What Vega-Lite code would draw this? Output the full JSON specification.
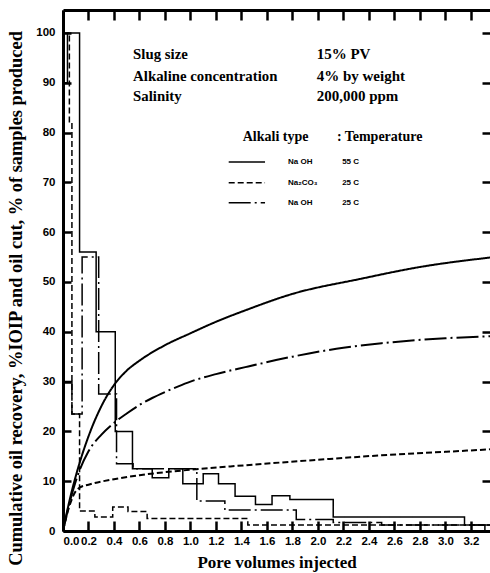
{
  "$schema": "https://vega.github.io/schema/vega-lite/v6.json",
  "width": 427,
  "height": 521,
  "autosize": {"type": "none"},
  "padding": {"left": 63, "top": 10, "right": 0, "bottom": 42},
  "background": "white",
  "config": {"view": {"stroke": null}},
  "datasets": {
    "cut": [
      {"series": "NaOH 55 C", "x": 0, "y": 90},
      {"series": "NaOH 55 C", "x": 0.035, "y": 100},
      {"series": "NaOH 55 C", "x": 0.13, "y": 56},
      {"series": "NaOH 55 C", "x": 0.26, "y": 40},
      {"series": "NaOH 55 C", "x": 0.41, "y": 20},
      {"series": "NaOH 55 C", "x": 0.545, "y": 12.5},
      {"series": "NaOH 55 C", "x": 0.7, "y": 10.7},
      {"series": "NaOH 55 C", "x": 0.83, "y": 12.5},
      {"series": "NaOH 55 C", "x": 0.94, "y": 9.5},
      {"series": "NaOH 55 C", "x": 1.1, "y": 11.5},
      {"series": "NaOH 55 C", "x": 1.22, "y": 9.5},
      {"series": "NaOH 55 C", "x": 1.35, "y": 7},
      {"series": "NaOH 55 C", "x": 1.51, "y": 5.3},
      {"series": "NaOH 55 C", "x": 1.64, "y": 7.1},
      {"series": "NaOH 55 C", "x": 1.78, "y": 6.3},
      {"series": "NaOH 55 C", "x": 2.12, "y": 2.8},
      {"series": "NaOH 55 C", "x": 3.15, "y": 1.2},
      {"series": "NaOH 55 C", "x": 3.31, "y": 0},
      {"series": "Na2CO3 25 C", "x": 0, "y": 100},
      {"series": "Na2CO3 25 C", "x": 0.05, "y": 82},
      {"series": "Na2CO3 25 C", "x": 0.07, "y": 23.5},
      {"series": "Na2CO3 25 C", "x": 0.13, "y": 4},
      {"series": "Na2CO3 25 C", "x": 0.25, "y": 2.8},
      {"series": "Na2CO3 25 C", "x": 0.39, "y": 4.8},
      {"series": "Na2CO3 25 C", "x": 0.51, "y": 3.9},
      {"series": "Na2CO3 25 C", "x": 0.66, "y": 2.5},
      {"series": "Na2CO3 25 C", "x": 1.45, "y": 1.2},
      {"series": "Na2CO3 25 C", "x": 3.35, "y": 1.2},
      {"series": "NaOH 25 C", "x": 0, "y": 30},
      {"series": "NaOH 25 C", "x": 0.07, "y": 23.5},
      {"series": "NaOH 25 C", "x": 0.15, "y": 55},
      {"series": "NaOH 25 C", "x": 0.28, "y": 27.5},
      {"series": "NaOH 25 C", "x": 0.42, "y": 13.5},
      {"series": "NaOH 25 C", "x": 0.55, "y": 12.5},
      {"series": "NaOH 25 C", "x": 1.05, "y": 6},
      {"series": "NaOH 25 C", "x": 1.27, "y": 4.2},
      {"series": "NaOH 25 C", "x": 1.83, "y": 2.3},
      {"series": "NaOH 25 C", "x": 2.12, "y": 1.7},
      {"series": "NaOH 25 C", "x": 2.5, "y": 1.2},
      {"series": "NaOH 25 C", "x": 3.35, "y": 1.2}
    ],
    "recovery": [
      {"series": "NaOH 55 C", "x": 0, "y": 0},
      {"series": "NaOH 55 C", "x": 0.05, "y": 6},
      {"series": "NaOH 55 C", "x": 0.1, "y": 11},
      {"series": "NaOH 55 C", "x": 0.2, "y": 19},
      {"series": "NaOH 55 C", "x": 0.3, "y": 25},
      {"series": "NaOH 55 C", "x": 0.4, "y": 29.3},
      {"series": "NaOH 55 C", "x": 0.5, "y": 32.2},
      {"series": "NaOH 55 C", "x": 0.6, "y": 34.2},
      {"series": "NaOH 55 C", "x": 0.8, "y": 37.3},
      {"series": "NaOH 55 C", "x": 1.0, "y": 39.7},
      {"series": "NaOH 55 C", "x": 1.2, "y": 42},
      {"series": "NaOH 55 C", "x": 1.43, "y": 44.3},
      {"series": "NaOH 55 C", "x": 1.8, "y": 47.6},
      {"series": "NaOH 55 C", "x": 2.33, "y": 50.6},
      {"series": "NaOH 55 C", "x": 2.8, "y": 53},
      {"series": "NaOH 55 C", "x": 3.35, "y": 54.9},
      {"series": "Na2CO3 25 C", "x": 0, "y": 0},
      {"series": "Na2CO3 25 C", "x": 0.05, "y": 5},
      {"series": "Na2CO3 25 C", "x": 0.1, "y": 8},
      {"series": "Na2CO3 25 C", "x": 0.13, "y": 8.7},
      {"series": "Na2CO3 25 C", "x": 0.2, "y": 9.3},
      {"series": "Na2CO3 25 C", "x": 0.4, "y": 10.4},
      {"series": "Na2CO3 25 C", "x": 0.6, "y": 11.2},
      {"series": "Na2CO3 25 C", "x": 1.0, "y": 12.3},
      {"series": "Na2CO3 25 C", "x": 1.43, "y": 13.2},
      {"series": "Na2CO3 25 C", "x": 2.0, "y": 14.3},
      {"series": "Na2CO3 25 C", "x": 2.5, "y": 15.2},
      {"series": "Na2CO3 25 C", "x": 3.0, "y": 15.9},
      {"series": "Na2CO3 25 C", "x": 3.35, "y": 16.4},
      {"series": "NaOH 25 C", "x": 0, "y": 0},
      {"series": "NaOH 25 C", "x": 0.05, "y": 5.5},
      {"series": "NaOH 25 C", "x": 0.1, "y": 10},
      {"series": "NaOH 25 C", "x": 0.2, "y": 16},
      {"series": "NaOH 25 C", "x": 0.3, "y": 19.3},
      {"series": "NaOH 25 C", "x": 0.4, "y": 21.7},
      {"series": "NaOH 25 C", "x": 0.5, "y": 23.6},
      {"series": "NaOH 25 C", "x": 0.6, "y": 25.3},
      {"series": "NaOH 25 C", "x": 0.7, "y": 26.7},
      {"series": "NaOH 25 C", "x": 0.8, "y": 27.9},
      {"series": "NaOH 25 C", "x": 0.9, "y": 29},
      {"series": "NaOH 25 C", "x": 1.0, "y": 30},
      {"series": "NaOH 25 C", "x": 1.2, "y": 31.5},
      {"series": "NaOH 25 C", "x": 1.43, "y": 32.9},
      {"series": "NaOH 25 C", "x": 1.8, "y": 35},
      {"series": "NaOH 25 C", "x": 2.2, "y": 36.8},
      {"series": "NaOH 25 C", "x": 2.5, "y": 37.7},
      {"series": "NaOH 25 C", "x": 3.0, "y": 38.7},
      {"series": "NaOH 25 C", "x": 3.35, "y": 39.1}
    ],
    "legend": [
      {"series": "NaOH 55 C", "x0": 1.3, "x1": 1.585, "y": 74.1, "alkali": "Na OH", "temp": "55  C"},
      {"series": "Na2CO3 25 C", "x0": 1.3, "x1": 1.585, "y": 69.9, "alkali": "Na₂CO₃", "temp": "25  C"},
      {"series": "NaOH 25 C", "x0": 1.3, "x1": 1.585, "y": 65.9, "alkali": "Na  OH", "temp": "25  C"}
    ],
    "notes": [
      {"label": "Slug size", "value": "15% PV", "y": 94.7},
      {"label": "Alkaline concentration", "value": "4% by weight", "y": 90.4},
      {"label": "Salinity", "value": "200,000 ppm", "y": 86.4}
    ],
    "header": [
      {"text": "Alkali type", "x": 1.41, "y": 78.3},
      {"text": ":", "x": 2.15, "y": 78.3},
      {"text": "Temperature", "x": 2.21, "y": 78.3}
    ]
  },
  "resolve": {"axis": {"x": "independent", "y": "independent"}},
  "layer": [
    {
      "data": {"name": "cut"},
      "mark": {"type": "line", "interpolate": "step-after", "color": "black", "strokeWidth": 1.5},
      "encoding": {
        "x": {"field": "x", "type": "quantitative", "scale": {"domain": [0, 3.35], "nice": false, "zero": false},
          "axis": {"orient": "bottom", "values": [0, 0.2, 0.4, 0.6, 0.8, 1.0, 1.2, 1.4, 1.6, 1.8, 2.0, 2.2, 2.4, 2.6, 2.8, 3.0, 3.2],
            "format": ".1f", "title": "Pore volumes injected", "grid": false,
            "domainColor": "black", "domainWidth": 3, "tickColor": "black", "tickWidth": 2.5, "tickSize": -10,
            "labelPadding": 14, "labelFont": "Liberation Sans", "labelFontWeight": "bold", "labelFontSize": 11.5, "labelColor": "black",
            "titleFont": "Liberation Serif", "titleFontWeight": "bold", "titleFontSize": 17, "titleColor": "black", "titlePadding": 8}},
        "y": {"field": "y", "type": "quantitative", "scale": {"domain": [0, 104.6], "nice": false},
          "axis": {"orient": "left", "values": [0, 10, 20, 30, 40, 50, 60, 70, 80, 90, 100],
            "title": "Cumulative oil recovery, %IOIP and oil cut, % of samples produced", "grid": false,
            "domainColor": "black", "domainWidth": 3, "tickColor": "black", "tickWidth": 2.5, "tickSize": -8,
            "labelPadding": 16, "labelFont": "Liberation Sans", "labelFontWeight": "bold", "labelFontSize": 11.5, "labelColor": "black",
            "titleFont": "Liberation Serif", "titleFontWeight": "bold", "titleFontSize": 18.4, "titleColor": "black",
            "titleX": -38, "titleY": 288}},
        "strokeDash": {"field": "series", "type": "nominal",
          "scale": {"domain": ["NaOH 55 C", "Na2CO3 25 C", "NaOH 25 C"], "range": [[1, 0], [6, 3], [22, 4, 2, 4]]}, "legend": null}
      }
    },
    {
      "data": {"name": "recovery"},
      "mark": {"type": "line", "interpolate": "monotone", "color": "black", "strokeWidth": 2},
      "encoding": {
        "x": {"field": "x", "type": "quantitative",
          "axis": {"orient": "top", "values": [0, 0.2, 0.4, 0.6, 0.8, 1.0, 1.2, 1.4, 1.6, 1.8, 2.0, 2.2, 2.4, 2.6, 2.8, 3.0, 3.2],
            "labels": false, "title": null, "grid": false, "domainColor": "black", "domainWidth": 3, "tickColor": "black", "tickWidth": 2.5, "tickSize": -10}},
        "y": {"field": "y", "type": "quantitative",
          "axis": {"orient": "right", "values": [0, 10, 20, 30, 40, 50, 60, 70, 80, 90, 100],
            "labels": false, "title": null, "grid": false, "domain": false, "tickColor": "black", "tickWidth": 2.5, "tickSize": -8}},
        "strokeDash": {"field": "series", "type": "nominal", "legend": null}
      }
    },
    {
      "data": {"name": "legend"},
      "mark": {"type": "rule", "color": "black", "strokeWidth": 1.5},
      "encoding": {
        "x": {"field": "x0", "type": "quantitative", "axis": null},
        "x2": {"field": "x1"},
        "y": {"field": "y", "type": "quantitative", "axis": null},
        "strokeDash": {"field": "series", "type": "nominal", "legend": null}
      }
    },
    {
      "data": {"name": "legend"},
      "mark": {"type": "text", "align": "left", "baseline": "middle", "font": "Liberation Sans", "fontWeight": "bold", "fontSize": 8, "color": "black"},
      "encoding": {
        "x": {"datum": 1.765, "type": "quantitative", "axis": null},
        "y": {"field": "y", "type": "quantitative", "axis": null},
        "text": {"field": "alkali"}
      }
    },
    {
      "data": {"name": "legend"},
      "mark": {"type": "text", "align": "left", "baseline": "middle", "font": "Liberation Sans", "fontWeight": "bold", "fontSize": 8, "color": "black"},
      "encoding": {
        "x": {"datum": 2.19, "type": "quantitative", "axis": null},
        "y": {"field": "y", "type": "quantitative", "axis": null},
        "text": {"field": "temp"}
      }
    },
    {
      "data": {"name": "notes"},
      "mark": {"type": "text", "align": "left", "baseline": "alphabetic", "font": "Liberation Serif", "fontWeight": "bold", "fontSize": 14.8, "color": "black"},
      "encoding": {
        "x": {"datum": 0.55, "type": "quantitative", "axis": null},
        "y": {"field": "y", "type": "quantitative", "axis": null},
        "text": {"field": "label"}
      }
    },
    {
      "data": {"name": "notes"},
      "mark": {"type": "text", "align": "left", "baseline": "alphabetic", "font": "Liberation Serif", "fontWeight": "bold", "fontSize": 15, "color": "black"},
      "encoding": {
        "x": {"datum": 1.99, "type": "quantitative", "axis": null},
        "y": {"field": "y", "type": "quantitative", "axis": null},
        "text": {"field": "value"}
      }
    },
    {
      "data": {"name": "header"},
      "mark": {"type": "text", "align": "left", "baseline": "alphabetic", "font": "Liberation Serif", "fontWeight": "bold", "fontSize": 14, "color": "black"},
      "encoding": {
        "x": {"field": "x", "type": "quantitative", "axis": null},
        "y": {"field": "y", "type": "quantitative", "axis": null},
        "text": {"field": "text"}
      }
    }
  ]
}
